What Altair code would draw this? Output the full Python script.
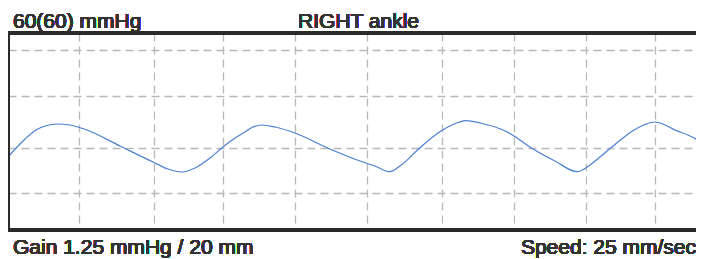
import altair as alt
import pandas as pd

# Waveform samples (time units, pressure units)
t_vals = [0, 12, 28, 37, 50, 62, 79, 112, 145, 160, 174, 187, 202, 215, 227, 237,
          244, 254, 267, 287, 319, 352, 367, 382, 392, 412, 433, 444, 458, 472,
          495, 506, 523, 547, 569, 582, 592, 610, 626, 637, 647, 657, 667, 680, 696]
p_vals = [73, 86, 100, 104, 106, 105, 100, 84, 68, 61, 58, 62, 72, 83, 92, 98,
          102.5, 105, 103, 97, 82.3, 69, 64, 58.3, 64, 82.3, 99, 105, 109.3, 107,
          100, 94, 82.3, 69, 58.3, 65, 73, 88, 100, 105.5, 108, 105, 100, 95, 86.7]

x_grid = [70.7, 145.7, 214.7, 287, 359, 433.7, 505.7, 577.7, 647]
y_grid = [36.7, 82.3, 134.3, 180.3]
x_domain = [0, 688]
y_domain = [0, 197]

label_top_left = "60(60) mmHg"
label_top_mid = "RIGHT ankle"
label_bottom_left = "Gain 1.25 mmHg / 20 mm"
label_bottom_right = "Speed: 25 mm/sec"

df = pd.DataFrame({"t": t_vals, "p": p_vals})

FONT = "Liberation Sans"
GRID = "#b8b8b8"
BORDER = "#2b2b2b"
TEXT = "#333333"

x_enc = alt.X("t:Q", scale=alt.Scale(domain=x_domain, nice=False, zero=False),
              axis=alt.Axis(values=x_grid, grid=True, gridDash=[8, 5], gridColor=GRID,
                            gridWidth=1.3, labels=False, ticks=False, domain=False, title=None))
y_enc = alt.Y("p:Q", scale=alt.Scale(domain=y_domain, nice=False, zero=False),
              axis=alt.Axis(values=y_grid, grid=True, gridDash=[8, 5], gridColor=GRID,
                            gridWidth=1.3, labels=False, ticks=False, domain=False, title=None))

line = alt.Chart(df).mark_line(color="#4a7fd2", strokeWidth=1.2, interpolate="monotone").encode(
    x=x_enc, y=y_enc)

top_border = alt.Chart(df).mark_rule(color=BORDER, strokeWidth=2.5).encode(y=alt.datum(197))
bottom_border = alt.Chart(df).mark_rule(color=BORDER, strokeWidth=2.5).encode(y=alt.datum(0))
left_border = alt.Chart(df).mark_rule(color=BORDER, strokeWidth=3).encode(x=alt.datum(0))

def txt(s, x, y, align):
    return alt.Chart(df).mark_text(font=FONT, fontSize=21, color=TEXT, align=align,
                                   fontWeight="normal", baseline="alphabetic").encode(
        x=alt.value(x), y=alt.value(y), text=alt.value(s))

texts = [
    txt(label_top_left, 5, -5, "left"),
    txt(label_top_mid, 290, -5, "left"),
    txt(label_bottom_left, 5, 221, "left"),
    txt(label_bottom_right, 688, 221, "right"),
]

chart = alt.layer(line, top_border, bottom_border, left_border, *texts).properties(
    width=688, height=197,
    padding={"left": 0, "top": 25, "right": 0, "bottom": 30},
    autosize=alt.AutoSizeParams(type="none"),
).configure_view(strokeWidth=0)

chart.save("out.html", embed_options={"renderer": "svg", "actions": False})
